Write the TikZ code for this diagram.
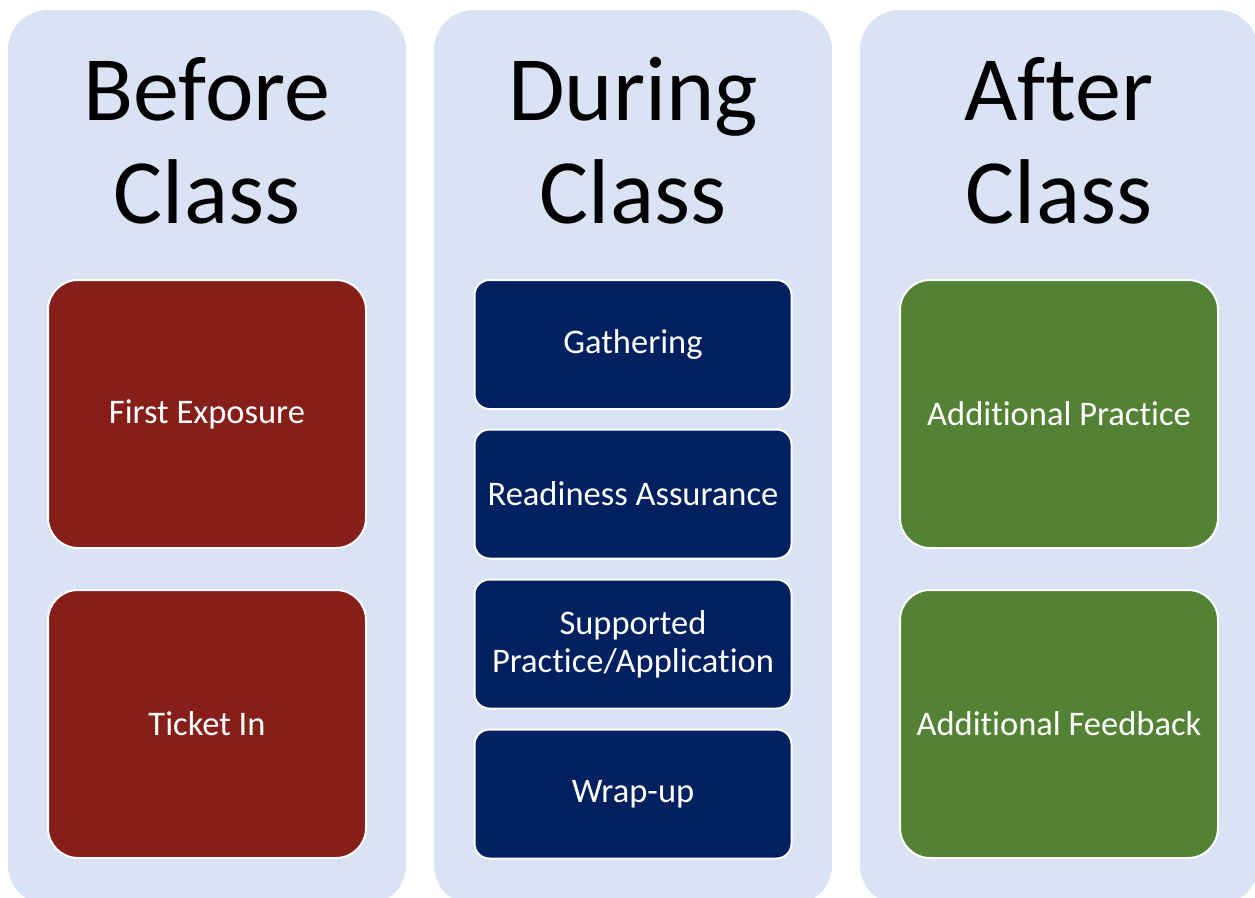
\documentclass[tikz,border=0pt]{standalone}
\usepackage{fontspec}
\setmainfont{Carlito}[Ligatures=NoCommon]
\definecolor{panelblue}{HTML}{DAE3F3}
\definecolor{beforered}{HTML}{861F1A}
\definecolor{duringblue}{HTML}{002060}
\definecolor{aftergreen}{HTML}{548235}
\begin{document}
\begin{tikzpicture}[x=1pt,y=-1pt]
    \tikzstyle{every node}=[inner sep=0pt];
    \tikzstyle{colpanel}=[fill=panelblue, rounded corners=40pt, minimum width=398pt, minimum height=895pt];
    \tikzstyle{coltitle}=[anchor=base, align=center, font=\fontsize{92}{103}\selectfont];
    \tikzstyle{bigbox}=[draw=white, line width=2pt, rounded corners=30pt, minimum width=318pt, minimum height=268pt, text=white, align=center, font=\fontsize{34.5}{38}\selectfont];
    \tikzstyle{smallbox}=[draw=white, line width=2pt, rounded corners=15pt, fill=duringblue, minimum width=317pt, minimum height=129pt, text=white, align=center, font=\fontsize{34.5}{38}\selectfont];
    \useasboundingbox (0,0) rectangle (1255,897);
    \clip (0,0) rectangle (1255,897);
    % the three columns
    \node (beforecol) at (207,457.5) [colpanel] {};
    \node (duringcol) at (633,457.5) [colpanel] {};
    \node (aftercol) at (1059,457.5) [colpanel] {};
    \node (beforetitle) at (207,223) [coltitle] {Before\\Class};
    \node (duringtitle) at (633,223) [coltitle] {During\\Class};
    \node (aftertitle) at (1059,223) [coltitle] {After\\Class};
    % before class
    \node (exposure) at (207,414) [bigbox, fill=beforered] {First Exposure};
    \node (ticket) at (207,724) [bigbox, fill=beforered] {Ticket In};
    % during class
    \node (gathering) at (633,344.5) [smallbox] {Gathering};
    \node (readiness) at (633,494) [smallbox] {Readiness Assurance};
    \node (supported) at (633,644) [smallbox] {Supported\\Practice/Application};
    \node (wrapup) at (633,794) [smallbox] {Wrap-up};
    % after class
    \node (practice) at (1059,414) [bigbox, fill=aftergreen] {Additional Practice};
    \node (feedback) at (1059,724) [bigbox, fill=aftergreen] {Additional Feedback};
\end{tikzpicture}
\end{document}
